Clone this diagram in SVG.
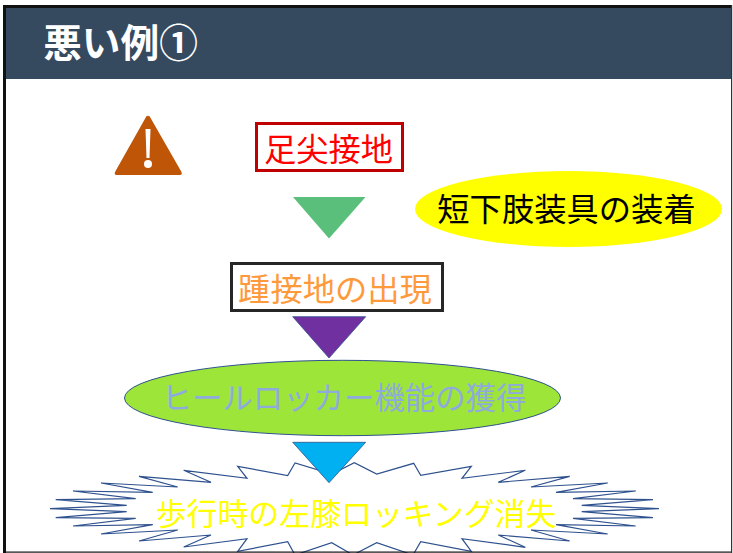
<svg xmlns="http://www.w3.org/2000/svg" width="733" height="553" viewBox="0 0 733 553">
<style>
text{font-family:"Noto Sans CJK JP","Noto Sans",sans-serif;text-anchor:middle;dominant-baseline:central}
.t{font-size:32.3px}
.s{font-size:30.9px}
.g{font-size:30.4px}
.arrow{stroke:#2f528f;stroke-width:.8}
</style>
<rect width="733" height="553" fill="#fff"/>
<rect x="6" y="8" width="725" height="71" fill="#35495f"/>
<g id="burst">
<polygon fill="#fff" stroke="#2f528f" stroke-width="1.2" points="295,463 287.7,475.5 237.7,466.3 247,478.3 183.7,470.3 211,482.3 139,476.3 177.7,487 101,483 152.7,492.3 73,491 135.7,498.7 55.7,499.7 126.7,505.3 50,508.7 126.7,511.7 55.7,517.7 135.7,518.3 73,526 152.7,524.7 101,534 177.7,530 139,541 211,535 183.7,547 247,538.7 237.700,551.3 287.7,541.7 295,555 331.7,542.7 353,555 376.7,542.7 413,555 420.7,541.7 471.3,551.3 462,538.7 525.3,547.3 498.3,535 569.7,541 531,530 607.7,534 556,524.7 635.7,526 573,518.3 653,517.7 581.7,511.7 659,508.7 581.7,505.3 653,499.7 573,498.7 635.7,491 556,492.3 607.7,483 531,487 569.7,476.3 498.3,482.3 525.3,470.3 462,478.3 471.3,466.3 420.7,475.3 413.7,463.3 376.7,474 354.3,462.7 331.7,474"/>
<text class="s" x="356" y="511" fill="#ffff00">歩行時の左膝ロッキング消失</text>
</g>
<g id="frame" fill="#111">
<rect x="3" y="5" width="729" height="3"/>
<rect x="3" y="5" width="3" height="548"/>
<rect x="3" y="551.5" width="729" height="1.2"/>
<rect x="731" y="5" width="1.2" height="548" fill="#333"/>
</g>
<g id="title"><text x="120.500" y="40" font-size="38.700" font-weight="700" fill="#fff">悪い例①</text></g>
<g id="warning">
<path d="M148 116.500 Q148.800 115 150 117 L181.500 172 Q182.500 175 180 175 L116.500 175 Q114 175 115 172 L146 117 Q147 115 148 116.500Z" fill="#bf5507"/>
<path d="M145.500 129 H150.500 L149.500 158 H146.500Z" fill="#fff"/>
<circle cx="148" cy="164" r="4" fill="#fff"/>
</g>
<g id="node1">
<rect x="256.500" y="123.500" width="146" height="47" fill="#fff" stroke="#c00000" stroke-width="3"/>
<text class="t" x="328.500" y="146.500" fill="#ff0000">足尖接地</text>
</g>
<g id="node2">
<ellipse cx="568.500" cy="209" rx="153.500" ry="38" fill="#ffff00"/>
<text class="t" x="566.500" y="207" fill="#000">短下肢装具の装着</text>
</g>
<g id="node3">
<rect x="231.500" y="263.500" width="211" height="47" fill="#fff" stroke="#262626" stroke-width="3"/>
<text class="t" x="335" y="287" fill="#ff9a3c">踵接地の出現</text>
</g>
<g id="node4">
<ellipse cx="342.500" cy="398" rx="218" ry="37.700" fill="#9de639" stroke="#2f528f"/>
<text class="g" x="344" y="396" fill="#8faadc">ヒールロッカー機能の獲得</text>
</g>
<g id="connectors">
<polygon points="293,197 365.500,197 329,238.500" fill="#5abf7a"/>
<polygon class="arrow" points="292.700,316.700 365.700,316.700 329,358" fill="#7030a0"/>
<polygon class="arrow" points="292.700,442.300 365.700,442.300 329,482.700" fill="#00b0f0"/>
</g>
</svg>
